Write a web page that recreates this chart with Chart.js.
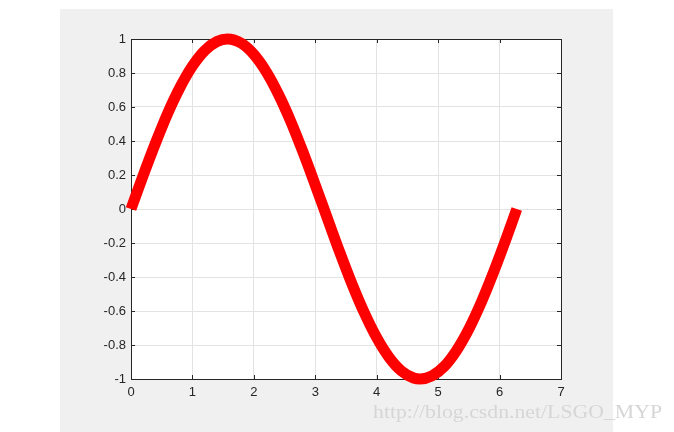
<!DOCTYPE html>
<html>
<head>
<meta charset="utf-8">
<script src="https://cdn.jsdelivr.net/npm/chart.js@4"></script>
<style>
  html, body { margin: 0; padding: 0; background: #fff; }
  #wrap { width: 674px; height: 432px; }
</style>
</head>
<body>
<div id="wrap"><canvas id="sine-chart" width="674" height="432"></canvas></div>
<script>
// values
const xValues = [0, 0.2, 0.4, 0.6, 0.8, 1.0, 1.2, 1.4, 1.57, 1.8, 2.0, 2.2, 2.4, 2.6, 2.8, 3.0,
    3.2, 3.4, 3.6, 3.8, 4.0, 4.2, 4.4, 4.6, 4.71, 4.9, 5.1, 5.3, 5.5, 5.7, 5.9, 6.1, 6.28];
const yValues = [0, 0.199, 0.389, 0.565, 0.717, 0.841, 0.932, 0.985, 1.0, 0.974, 0.909, 0.808, 0.675, 0.516, 0.335, 0.141,
    -0.058, -0.256, -0.443, -0.612, -0.757, -0.872, -0.952, -0.994, -1.0, -0.982, -0.926, -0.832, -0.706, -0.551, -0.374, -0.182, 0];
const xTicks = [0, 1, 2, 3, 4, 5, 6, 7];
const yTicks = [-1, -0.8, -0.6, -0.4, -0.2, 0, 0.2, 0.4, 0.6, 0.8, 1];
const watermark = 'http://blog.csdn.net/LSGO_MYP';

const axisColor = '#262626';

// gray figure background, box, inward ticks
const figurePlugin = {
    id: 'figure',
    beforeDraw: (chart) => {
        const c = chart.ctx;
        c.save();
        c.fillStyle = '#f0f0f0';
        c.fillRect(60, 9, 553, 423);
        const a = chart.chartArea;
        c.fillStyle = '#ffffff';
        c.fillRect(a.left, a.top, a.right - a.left, a.bottom - a.top);
        c.restore();
    },
    beforeDatasetsDraw: (chart) => {
        const c = chart.ctx;
        const a = chart.chartArea;
        const xs = chart.scales.x, ys = chart.scales.y;
        c.save();
        c.strokeStyle = axisColor;
        c.lineWidth = 1;
        c.beginPath();
        xTicks.forEach(v => {
            const px = Math.round(xs.getPixelForValue(v)) + 0.5;
            c.moveTo(px, a.bottom); c.lineTo(px, a.bottom - 4);
            c.moveTo(px, a.top); c.lineTo(px, a.top + 4);
        });
        yTicks.forEach(v => {
            const py = Math.round(ys.getPixelForValue(v)) + 0.5;
            c.moveTo(a.left, py); c.lineTo(a.left + 4, py);
            c.moveTo(a.right, py); c.lineTo(a.right - 4, py);
        });
        c.stroke();
        c.strokeRect(Math.round(a.left) + 0.5, Math.round(a.top) + 0.5,
            Math.round(a.right - a.left), Math.round(a.bottom - a.top));
        c.restore();
    },
    afterDraw: (chart) => {
        const c = chart.ctx;
        c.save();
        c.font = '18px "Liberation Serif", serif';
        c.fillStyle = '#d6d6d6';
        c.textBaseline = 'alphabetic';
        const w = c.measureText(watermark).width;
        c.translate(373, 418);
        c.scale(289 / w, 1);
        c.fillText(watermark, 0, 0);
        c.restore();
    }
};

const ctx = document.getElementById('sine-chart');

new Chart(ctx, {
    type: 'line',
    data: {
        datasets: [{
            data: xValues.map((x, i) => ({ x: x, y: yValues[i] })),
            borderColor: '#ff0000',
            borderWidth: 11,
            borderCapStyle: 'butt',
            borderJoinStyle: 'round',
            cubicInterpolationMode: 'monotone',
            pointRadius: 0,
            fill: false,
            clip: false
        }]
    },
    options: {
        responsive: false,
        animation: false,
        events: [],
        layout: { padding: { left: 0, right: 113, top: 39, bottom: 0 } },
        plugins: {
            legend: { display: false },
            tooltip: { enabled: false }
        },
        scales: {
            x: {
                type: 'linear',
                min: 0,
                max: 7,
                afterFit: (scale) => { scale.height = 53; },
                afterBuildTicks: (scale) => { scale.ticks = xTicks.map(v => ({ value: v })); },
                grid: { color: '#e3e3e3', drawTicks: false },
                border: { display: false },
                ticks: {
                    color: axisColor,
                    padding: 6,
                    maxRotation: 0,
                    font: { family: '"Liberation Sans", Arial, sans-serif', size: 13 },
                    callback: (v) => String(v)
                }
            },
            y: {
                min: -1,
                max: 1,
                afterFit: (scale) => { scale.width = 131; },
                afterBuildTicks: (scale) => { scale.ticks = yTicks.map(v => ({ value: v })); },
                grid: { color: '#e3e3e3', drawTicks: false },
                border: { display: false },
                ticks: {
                    color: axisColor,
                    padding: 5,
                    font: { family: '"Liberation Sans", Arial, sans-serif', size: 13 },
                    callback: (v) => String(Math.round(v * 10) / 10)
                }
            }
        }
    },
    plugins: [figurePlugin]
});
</script>
</body>
</html>
